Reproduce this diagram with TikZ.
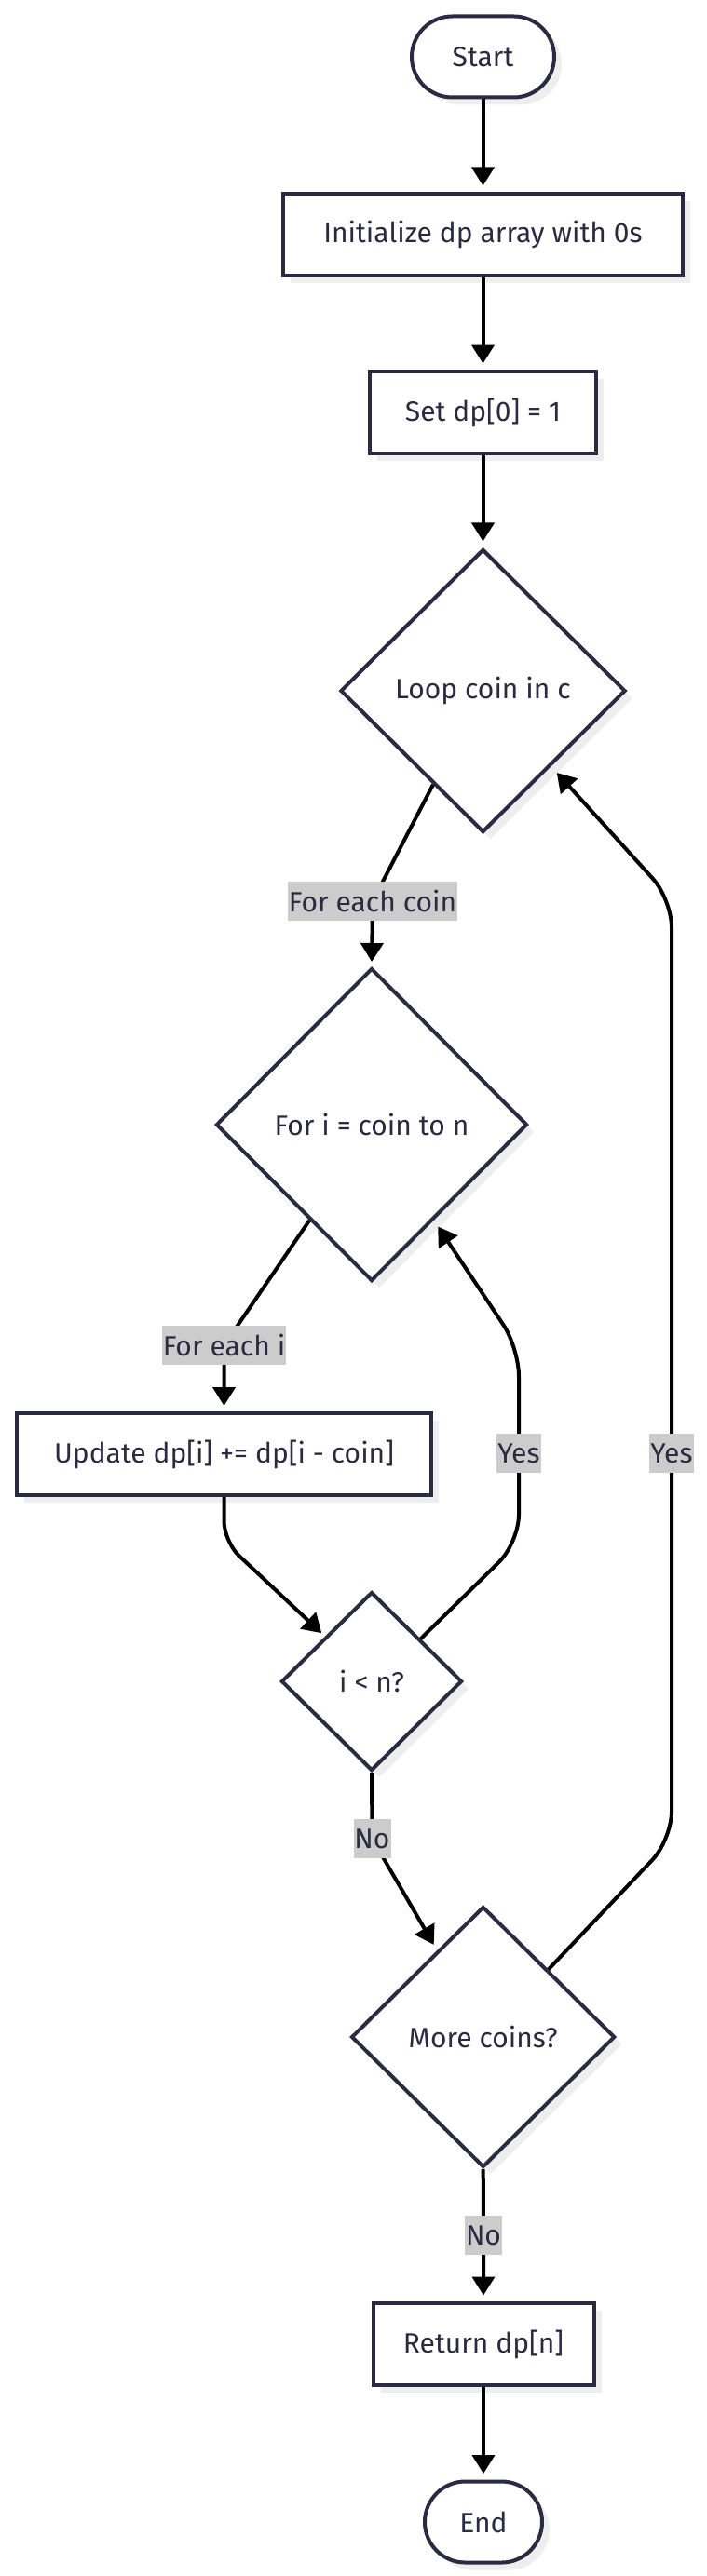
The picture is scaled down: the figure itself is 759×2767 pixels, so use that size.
\documentclass[tikz,border=0pt]{standalone}
\usepackage{fontspec}
\setmainfont{Fira Sans}
\usetikzlibrary{shapes.geometric,shapes.misc,arrows.meta,shadows}
\definecolor{ink}{HTML}{2B2A40}
\definecolor{shade}{HTML}{EEEEEE}
\definecolor{lab}{HTML}{CCCCCC}
\begin{document}
\begin{tikzpicture}[x=1pt,y=-1pt,
  font=\fontsize{30}{36}\selectfont,
  base/.style={draw=ink, line width=4pt, fill=white, text=ink,
    drop shadow={shadow xshift=8pt,shadow yshift=-8pt,fill=shade,opacity=1}},
  proc/.style={base, rectangle, minimum width=#1, minimum height=88pt, inner sep=0pt},
  term/.style={base, rounded rectangle, minimum width=#1, minimum height=87pt, inner sep=0pt},
  dec/.style 2 args={base, diamond, minimum width=#1, minimum height=#2, inner sep=0pt},
  edge/.style={draw=black, line width=4pt, -{Triangle[length=20pt,width=24pt]}},
  lbl/.style={fill=lab, text=ink, inner xsep=1pt, inner ysep=0pt, minimum height=42pt}]
\useasboundingbox (0,0) rectangle (759,2767);
% nodes
\node[term=153pt] (start) at (518.5,61) {Start};
\node[proc=429pt] (init) at (518.5,252) {Initialize dp array with 0s};
\node[proc=243pt] (set) at (518.5,443) {Set dp[0] = 1};
\node[dec={306pt}{304pt}] (loop) at (518.5,742) {Loop coin in c};
\node[dec={334pt}{336pt}] (fori) at (399,1208) {For i = coin to n};
\node[proc=445pt] (upd) at (240.5,1562) {Update dp[i] += dp[i - coin]};
\node[dec={194pt}{192pt}] (iln) at (399,1806) {i < n?};
\node[dec={283pt}{280pt}] (more) at (518.7,2188) {More coins?};
\node[proc=237pt] (ret) at (519,2518) {Return dp[n]};
\node[term=126pt] (end) at (519,2709) {End};
% label positions and bends
\coordinate (cl1) at (400,968);
\coordinate (cl2) at (240.5,1445);
\coordinate (cl3) at (399.5,1975);
\coordinate (cl4) at (519,2401);
\coordinate (b1) at (240.5,1656);
\coordinate (y1a) at (557,1657);
\coordinate (y1b) at (557,1448);
\coordinate (y2a) at (721,1976);
\coordinate (y2b) at (721,966);
% edges
\draw[edge, shorten >=6.5pt] (start) -- (init);
\draw[edge, shorten >=6.5pt] (init) -- (set);
\draw[edge, shorten >=6.5pt] (set) -- (loop);
\draw[edge, shorten >=5pt] (loop.242.5) -- (cl1) -- (fori.north);
\draw[edge, shorten >=6pt] (fori.237.3) -- (cl2) -- (upd.north);
\draw[edge, shorten >=5pt, rounded corners=22pt] (upd.south) -- (b1) -- (iln.136.7);
\draw[edge, shorten >=8pt, rounded corners=30pt] (iln.41.3) -- (y1a) -- (y1b) -- (fori.303.3);
\draw[edge, shorten >=7pt] (iln.south) -- (cl3) -- (more.118.6);
\draw[edge, shorten >=9pt, rounded corners=30pt] (more.46.4) -- (y2a) -- (y2b) -- (loop.312);
\draw[edge, shorten >=6.5pt] (more.south) -- (cl4) -- (ret.north);
\draw[edge, shorten >=6.5pt] (ret) -- (end);
% labels
\node[lbl] (l1) at (cl1) {For each coin};
\node[lbl] (l2) at (cl2) {For each i};
\node[lbl] (l3) at (cl3) {No};
\node[lbl] (l4) at (cl4) {No};
\node[lbl] (l5) at (557,1561) {Yes};
\node[lbl] (l6) at (721,1561) {Yes};
\end{tikzpicture}
\end{document}
